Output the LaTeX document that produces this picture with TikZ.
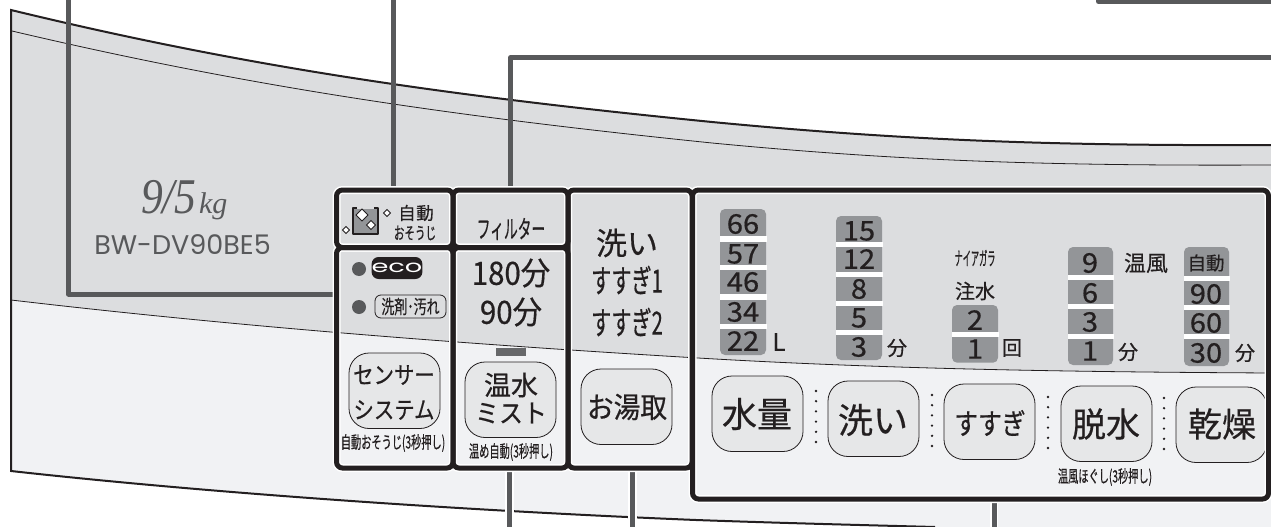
\documentclass[tikz,border=0pt]{standalone}
\usepackage{fontspec}
\usepackage{graphicx}
\setmainfont{Noto Sans CJK JP}[FakeBold=0.5]
\newfontfamily\modelfont{Poppins}
\newfontfamily\capfont{Liberation Serif}
\definecolor{ink}{HTML}{231F20}
\definecolor{lead}{HTML}{58595B}
\definecolor{upper}{HTML}{DCDDDF}
\definecolor{lower}{HTML}{F1F2F4}
\definecolor{btn}{HTML}{E6E7E8}
\definecolor{cell}{HTML}{939598}
\newcommand{\fs}[1]{\fontsize{#1}{#1}\selectfont}
\newcommand{\sx}[2]{\scalebox{#1}[1]{#2}}
\tikzset{
  x=1pt,y=-1pt,
  every node/.style={inner sep=0pt,outer sep=0pt,text=ink},
  panel/.style={draw=ink,line width=5pt,rounded corners=6pt,anchor=north west},
  halo/.style={draw=white,line width=8pt,rounded corners=6pt,anchor=north west},
  keybtn/.style={draw=ink,line width=0.8pt,fill=btn,rounded corners=20pt,minimum width=91pt,minimum height=75.5pt,anchor=north west},
  lead/.style={draw=lead,line width=5pt,line join=round},
  leadhalo/.style={draw=white,line width=8.5pt},
  cellbar/.style={fill=white},
  cellblk/.style={fill=cell,rounded corners=5pt},
  sep/.style={fill=ink,circle,minimum size=2.6pt},
  outline/.style={draw=ink,line width=1.6pt},
}
\newcommand{\vdotsep}[3]{\foreach \k in {0,...,5}{\node[sep] at (#1,{#2+\k*(#3-#2)/5}) {};}}
\newcommand{\cellcol}[5]{% x1,y1,x2,y2,bar ys
  \fill[cellblk] (#1,#2) rectangle (#3,#4);
  \foreach \a/\b in {#5}{\fill[cellbar] ({#1-0.5},\a) rectangle ({#3+0.5},\b);}
}
\begin{document}
\begin{tikzpicture}
\useasboundingbox (0,0) rectangle (1271,527);
\clip (0,0) rectangle (1271,527);
\fill[white] (0,0) rectangle (1271,527);
% body
\fill[lower] (11,290) -- (11,471) .. controls (200,492) and (450,510) .. (696,520) .. controls (780,523) and (860,525) .. (935,527) -- (1271,527) -- (1271,290) -- cycle;
\fill[upper] (11,10) .. controls (250,68) and (450,96) .. (712,122) .. controls (900,140) and (1050,146) .. (1271,145) -- (1271,373) .. controls (1100,372) and (900,370) .. (698,358) .. controls (480,345) and (250,328) .. (11,300) -- cycle;
\draw[ink,line width=2pt] (1271,145) .. controls (1050,146) and (900,140) .. (712,122) .. controls (450,96) and (250,68) .. (11,10) -- (11,471) .. controls (200,492) and (450,510) .. (696,520) .. controls (780,523) and (860,525) .. (935,527);
\draw[ink,line width=0.8pt] (12,31) .. controls (250,87) and (450,116) .. (712,143) .. controls (900,161) and (1050,166) .. (1271,165);
\draw[ink,line width=0.8pt] (1271,373) .. controls (1100,372) and (900,370) .. (698,358) .. controls (480,345) and (250,328) .. (11,300);
% model
\node[anchor=base west,text=lead] (cap) at (141,213) {\capfont\fs{50}\itshape\sx{0.87}{9/5}};
\node[anchor=base west,text=lead] (kg) at (199,213) {\capfont\fs{30}\itshape kg};
\node[text=lead] (model) at (182.5,245) {\modelfont\fs{27}BW-DV90BE5};
% connector end points
\coordinate (a0) at (68.5,-5); \coordinate (a1) at (68.5,294); \coordinate (a2) at (336,294);
\coordinate (b0) at (393.5,-5); \coordinate (b1) at (393.5,190);
\coordinate (c0) at (1276,57.7); \coordinate (c1) at (510.5,57.7); \coordinate (c2) at (510.5,190);
\coordinate (d0) at (1098.5,-5); \coordinate (d1) at (1098.5,1.5); \coordinate (d2) at (1276,1.5);
\coordinate (e0) at (509.5,468); \coordinate (e1) at (509.5,532);
\coordinate (f0) at (632.5,468); \coordinate (f1) at (632.5,532);
\coordinate (g0) at (994,499); \coordinate (g1) at (994,532);
\draw[leadhalo] (e0) -- (e1); \draw[leadhalo] (f0) -- (f1); \draw[leadhalo] (g0) -- (g1);
\draw[lead] (a0) -- (a1) -- (a2);
\draw[lead] (b0) -- (b1);
\draw[lead] (c0) -- (c1) -- (c2);
\draw[lead] (d0) -- (d1) -- (d2);
\draw[lead] (e0) -- (e1); \draw[lead] (f0) -- (f1); \draw[lead] (g0) -- (g1);
% auto clean
\fill[cell] (353,209) rectangle (378,233);
\draw[outline,line join=round] (357,208) -- (353,208) -- (353,234) -- (378,234) -- (378,208) -- (374,208);
\foreach \n/\cx/\cy/\r in {q1/362/215/6,q2/371/225/4.5,q3/387/213/3.5,q4/346/230/3.5}{
  \filldraw[fill=white,draw=ink,line width=0.8pt] (\cx-\r,\cy) -- (\cx,\cy-\r) -- (\cx+\r,\cy) -- (\cx,\cy+\r) -- cycle;}
\node (autoA) at (416,213) {\fs{17.5}自\hspace{0.5pt}動};
\node (autoB) at (415,233) {\fs{17}\sx{0.62}{おそうじ}};
% eco
\node[fill=lead,circle,minimum size=14pt] (dotA) at (359,269) {};
\node[fill=lead,circle,minimum size=14pt] (dotB) at (359,307) {};
\node[fill=ink,rounded corners=7pt,minimum width=44pt,minimum height=22pt,text=white] (eco) at (397,268) {\modelfont\fs{17}\sx{1.6}{\color{white}eco}};
\node[draw=ink,line width=0.8pt,rounded corners=6pt,minimum width=71pt,minimum height=23pt] (soil) at (410.5,306.5) {\fs{19}\sx{0.68}{洗剤･汚れ}};
\node[keybtn] (sensor) at (349,353) {};
\node (sensorA) at (394,375) {\fs{24}\sx{0.85}{センサー}};
\node (sensorB) at (394,410) {\fs{24}\sx{0.85}{システム}};
\node (sensorC) at (393,443) {\fs{17}\sx{0.6}{自動おそうじ(3秒押し)}};
% filter
\node (filter) at (511,229) {\fs{25}\sx{0.55}{フィルター}};
\node (t180) at (511,273) {\fs{32}\sx{0.92}{180分}};
\node (t90) at (511,312) {\fs{32}\sx{0.92}{90分}};
\fill[lead!75!cell] (496,348) rectangle (526,356);
\node[keybtn] (mist) at (465,362) {};
\node (mistA) at (511,385) {\fs{27}温水};
\node (mistB) at (511,413) {\fs{26}\sx{0.92}{ミスト}};
\node (mistC) at (511,452) {\fs{17}\sx{0.6}{温め自動(3秒押し)}};
% rinse
\node (wash) at (627,243) {\fs{31}洗い};
\node (rinseA) at (627,280) {\fs{32}\sx{0.63}{すすぎ1}};
\node (rinseB) at (627,322) {\fs{32}\sx{0.63}{すすぎ2}};
\node[keybtn] (yutori) at (581,369) {};
\node (yutoriT) at (627,407) {\fs{29}\sx{0.92}{お湯取}};
% cells
\cellcol{720}{209}{766}{355}{236/241.5,265/270,294/299.5,324/329}
\cellcol{836}{216}{882}{360}{241.7/246.7,271.7/276.7,300.7/306,330/335.3}
\cellcol{952}{305}{998}{362.7}{331.7/336.7}
\cellcol{1068}{247}{1113}{365}{275/280,304/309,334/339}
\cellcol{1184}{247}{1229}{366}{276/281,305/310,334.3/339.3}
\foreach \n/\y/\t in {w1/224/66,w2/254/57,w3/282/46,w4/312/34,w5/341/22}{\node (\n) at (743,\y) {\fs{27}\sx{1.08}{\t}};}
\node (wL) at (779,342) {\fs{24}L};
\foreach \n/\y/\t in {x1/231/15,x2/259/12,x3/289/8,x4/318/5,x5/347/3}{\node (\n) at (859,\y) {\fs{27}\sx{1.08}{\t}};}
\node (xU) at (897,348) {\fs{20}分};
\node (nia) at (975,258) {\fs{19}\sx{0.43}{ナイアガラ}};
\node (chu) at (975,291) {\fs{20}注水};
\node (r2) at (975,320) {\fs{27}\sx{1.08}{2}};
\node (r1) at (975,349) {\fs{27}\sx{1.08}{1}};
\node (rU) at (1012,348) {\fs{20}回};
\foreach \n/\y/\t in {y1/263/9,y2/293/6,y3/322/3,y4/351/1}{\node (\n) at (1090,\y) {\fs{27}\sx{1.08}{\t}};}
\node (warm) at (1146,263) {\fs{22}温風};
\node (yU) at (1128,352) {\fs{20}分};
\node (z0) at (1206,263) {\fs{18.5}自動};
\foreach \n/\y/\t in {z1/294/90,z2/323/60,z3/353/30}{\node (\n) at (1206,\y) {\fs{27}\sx{1.08}{\t}};}
\node (zU) at (1245,353) {\fs{20}分};
% keys
\node[keybtn] (k1) at (712,376) {};
\node[keybtn] (k2) at (828,381) {};
\node[keybtn] (k3) at (944,384) {};
\node[keybtn] (k4) at (1061,386) {};
\node[keybtn] (k5) at (1176,387) {};
\node (k1t) at (757,414) {\fs{35}水量};
\node (k2t) at (873,420) {\fs{35}洗い};
\node (k3t) at (990,423) {\fs{29}\sx{0.82}{すすぎ}};
\node (k4t) at (1106,424) {\fs{34}脱水};
\node (k5t) at (1222,424) {\fs{34}乾燥};
\vdotsep{816}{391}{442}
\vdotsep{932}{395}{446}
\vdotsep{1048}{397}{448}
\vdotsep{1164}{398}{449}
\node (spin) at (1105,477) {\fs{17}\sx{0.6}{温風ほぐし(3秒押し)}};
% frames
\foreach \st in {halo,panel}{
  \node[\st,minimum width=116.5pt,minimum height=57.5pt] (p\st A) at (336.5,190) {};
  \node[\st,minimum width=116.5pt,minimum height=220.5pt] (p\st B) at (336.5,247.5) {};
  \node[\st,minimum width=115pt,minimum height=57.5pt] (p\st C) at (453,190) {};
  \node[\st,minimum width=115pt,minimum height=220.5pt] (p\st D) at (453,247.5) {};
  \node[\st,minimum width=124pt,minimum height=278pt] (p\st E) at (568,190) {};
  \node[\st,minimum width=576pt,minimum height=309pt] (p\st F) at (692.5,190) {};
}
\end{tikzpicture}
\end{document}
